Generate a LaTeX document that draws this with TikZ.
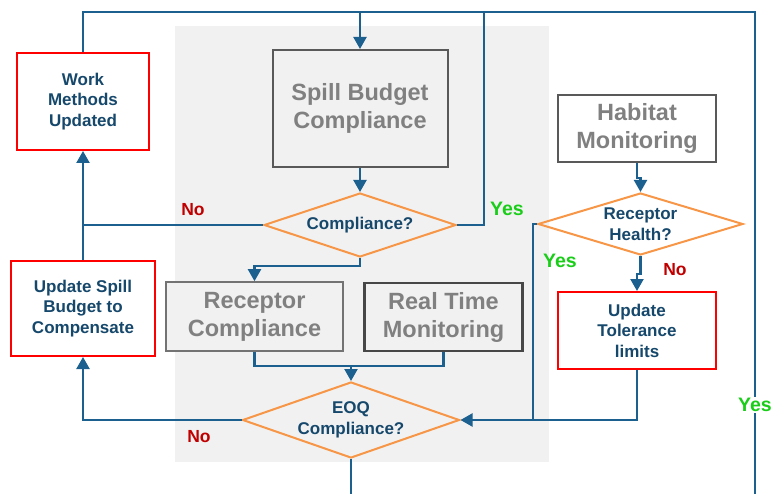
\documentclass[tikz,border=0pt]{standalone}
\usepackage{fontspec}
\setmainfont{Liberation Sans}
\usetikzlibrary{shapes.geometric,arrows.meta}

\definecolor{flowblue}{RGB}{28,96,144}
\definecolor{textblue}{RGB}{22,72,108}
\definecolor{dorange}{RGB}{247,150,70}
\definecolor{boxred}{RGB}{255,0,0}
\definecolor{nored}{RGB}{192,0,0}
\definecolor{yesgreen}{RGB}{25,205,25}
\definecolor{boxgray}{RGB}{128,128,128}
\definecolor{bggray}{RGB}{241,241,241}

\tikzset{
  flow/.style={draw=flowblue,line width=2.2pt},
  arr/.style={flow,-{Triangle[length=12pt,width=13pt]}},
  action/.style={draw=boxred,line width=2pt,fill=white,align=center,
    text=textblue,font=\fontsize{17}{20.5}\selectfont\bfseries},
  stage/.style={draw=black!65,line width=2pt,align=center,
    text=boxgray,font=\fontsize{23.5}{28}\selectfont\bfseries},
  decision/.style={diamond,draw=dorange,line width=2pt,inner sep=0pt,aspect=3,
    align=center,text=textblue,font=\fontsize{17}{20.5}\selectfont\bfseries},
  yes/.style={text=yesgreen,font=\fontsize{19.5}{22}\selectfont\bfseries},
  no/.style={text=nored,font=\fontsize{17.5}{20}\selectfont\bfseries}
}

\begin{document}
\begin{tikzpicture}[x=1pt,y=-1pt]
  \useasboundingbox (0,0) rectangle (773,494);
  \fill[bggray] (175,26) rectangle (549,462);

  % boxes
  \node[action,minimum width=132pt,minimum height=97pt] (work) at (83,101.5) {Work\\Methods\\Updated};
  \node[action,minimum width=144pt,minimum height=95pt] (upd) at (83,308.5) {Update Spill\\Budget to\\Compensate};
  \node[stage,fill=bggray,minimum width=175pt,minimum height=117pt] (spill) at (360,108.5) {Spill Budget\\Compliance};
  \node[stage,fill=bggray,draw=black!55,line width=1.6pt,minimum width=177pt,minimum height=69pt] (recc) at (254.5,316.5) {Receptor\\Compliance};
  \node[stage,fill=bggray,draw=black!72,line width=2.8pt,minimum width=158pt,minimum height=68pt] (rtm) at (443.5,317) {Real Time\\Monitoring};
  \node[stage,fill=white,minimum width=158pt,minimum height=67pt] (hab) at (637,128.5) {Habitat\\Monitoring};
  \node[action,minimum width=158pt,minimum height=77pt] (tol) at (637,330.5) {Update\\Tolerance\\limits};

  % decisions
  \node[decision,minimum width=192pt,minimum height=64pt] (comp) at (360,225) {Compliance?};
  \node[decision,minimum width=217pt,minimum height=76pt] (eoq) at (351,420) {EOQ\\Compliance?};
  \node[decision,minimum width=205pt,minimum height=62pt] (rh) at (640.5,224) {Receptor\\Health?};

  \coordinate (tr) at (755,12);
  \coordinate (br) at (755,494);
  \coordinate (tyes) at (484,12);
  \coordinate (merge) at (351,366);
  \coordinate (out) at (351,494);
  \coordinate (side) at (533,420);

  % connectors
  \draw[flow] (work.north) |- (tr) -- (br);
  \draw[arr] (spill.north |- tr) -- (spill.north);
  \draw[arr] (spill.south) -- (comp.north);
  \draw[flow] (comp.east) -| (tyes);
  \draw[flow] (comp.west) -- (comp.west -| work.south);
  \draw[arr] (upd.north) -- (work.south);
  \draw[arr] (comp.south) -- ++(0,8) -| (recc.north);
  \draw[flow] (recc.south) |- (merge) -| (rtm.south);
  \draw[arr] (merge) -- (eoq.north);
  \draw[flow] (eoq.south) -- (out);
  \draw[arr] (eoq.west) -| (upd.south);
  \draw[arr] (hab.south) -- ++(0,15) -| (rh.north);
  \draw[flow] (rh.west) -| (side);
  \draw[arr] (rh.south) -- ++(0,18) -| (tol.north);
  \draw[arr] (tol.south) |- (eoq.east);

  % labels
  \node[no] (no1) at (193,210) {No};
  \node[no] (no2) at (199,437) {No};
  \node[no] (no3) at (675,270) {No};
  \node[yes] (yes1) at (507,209) {Yes};
  \node[yes] (yes2) at (560,261) {Yes};
  \node[yes,fill=white,inner sep=1pt] (yes3) at (755,405) {Yes};
\end{tikzpicture}
\end{document}
